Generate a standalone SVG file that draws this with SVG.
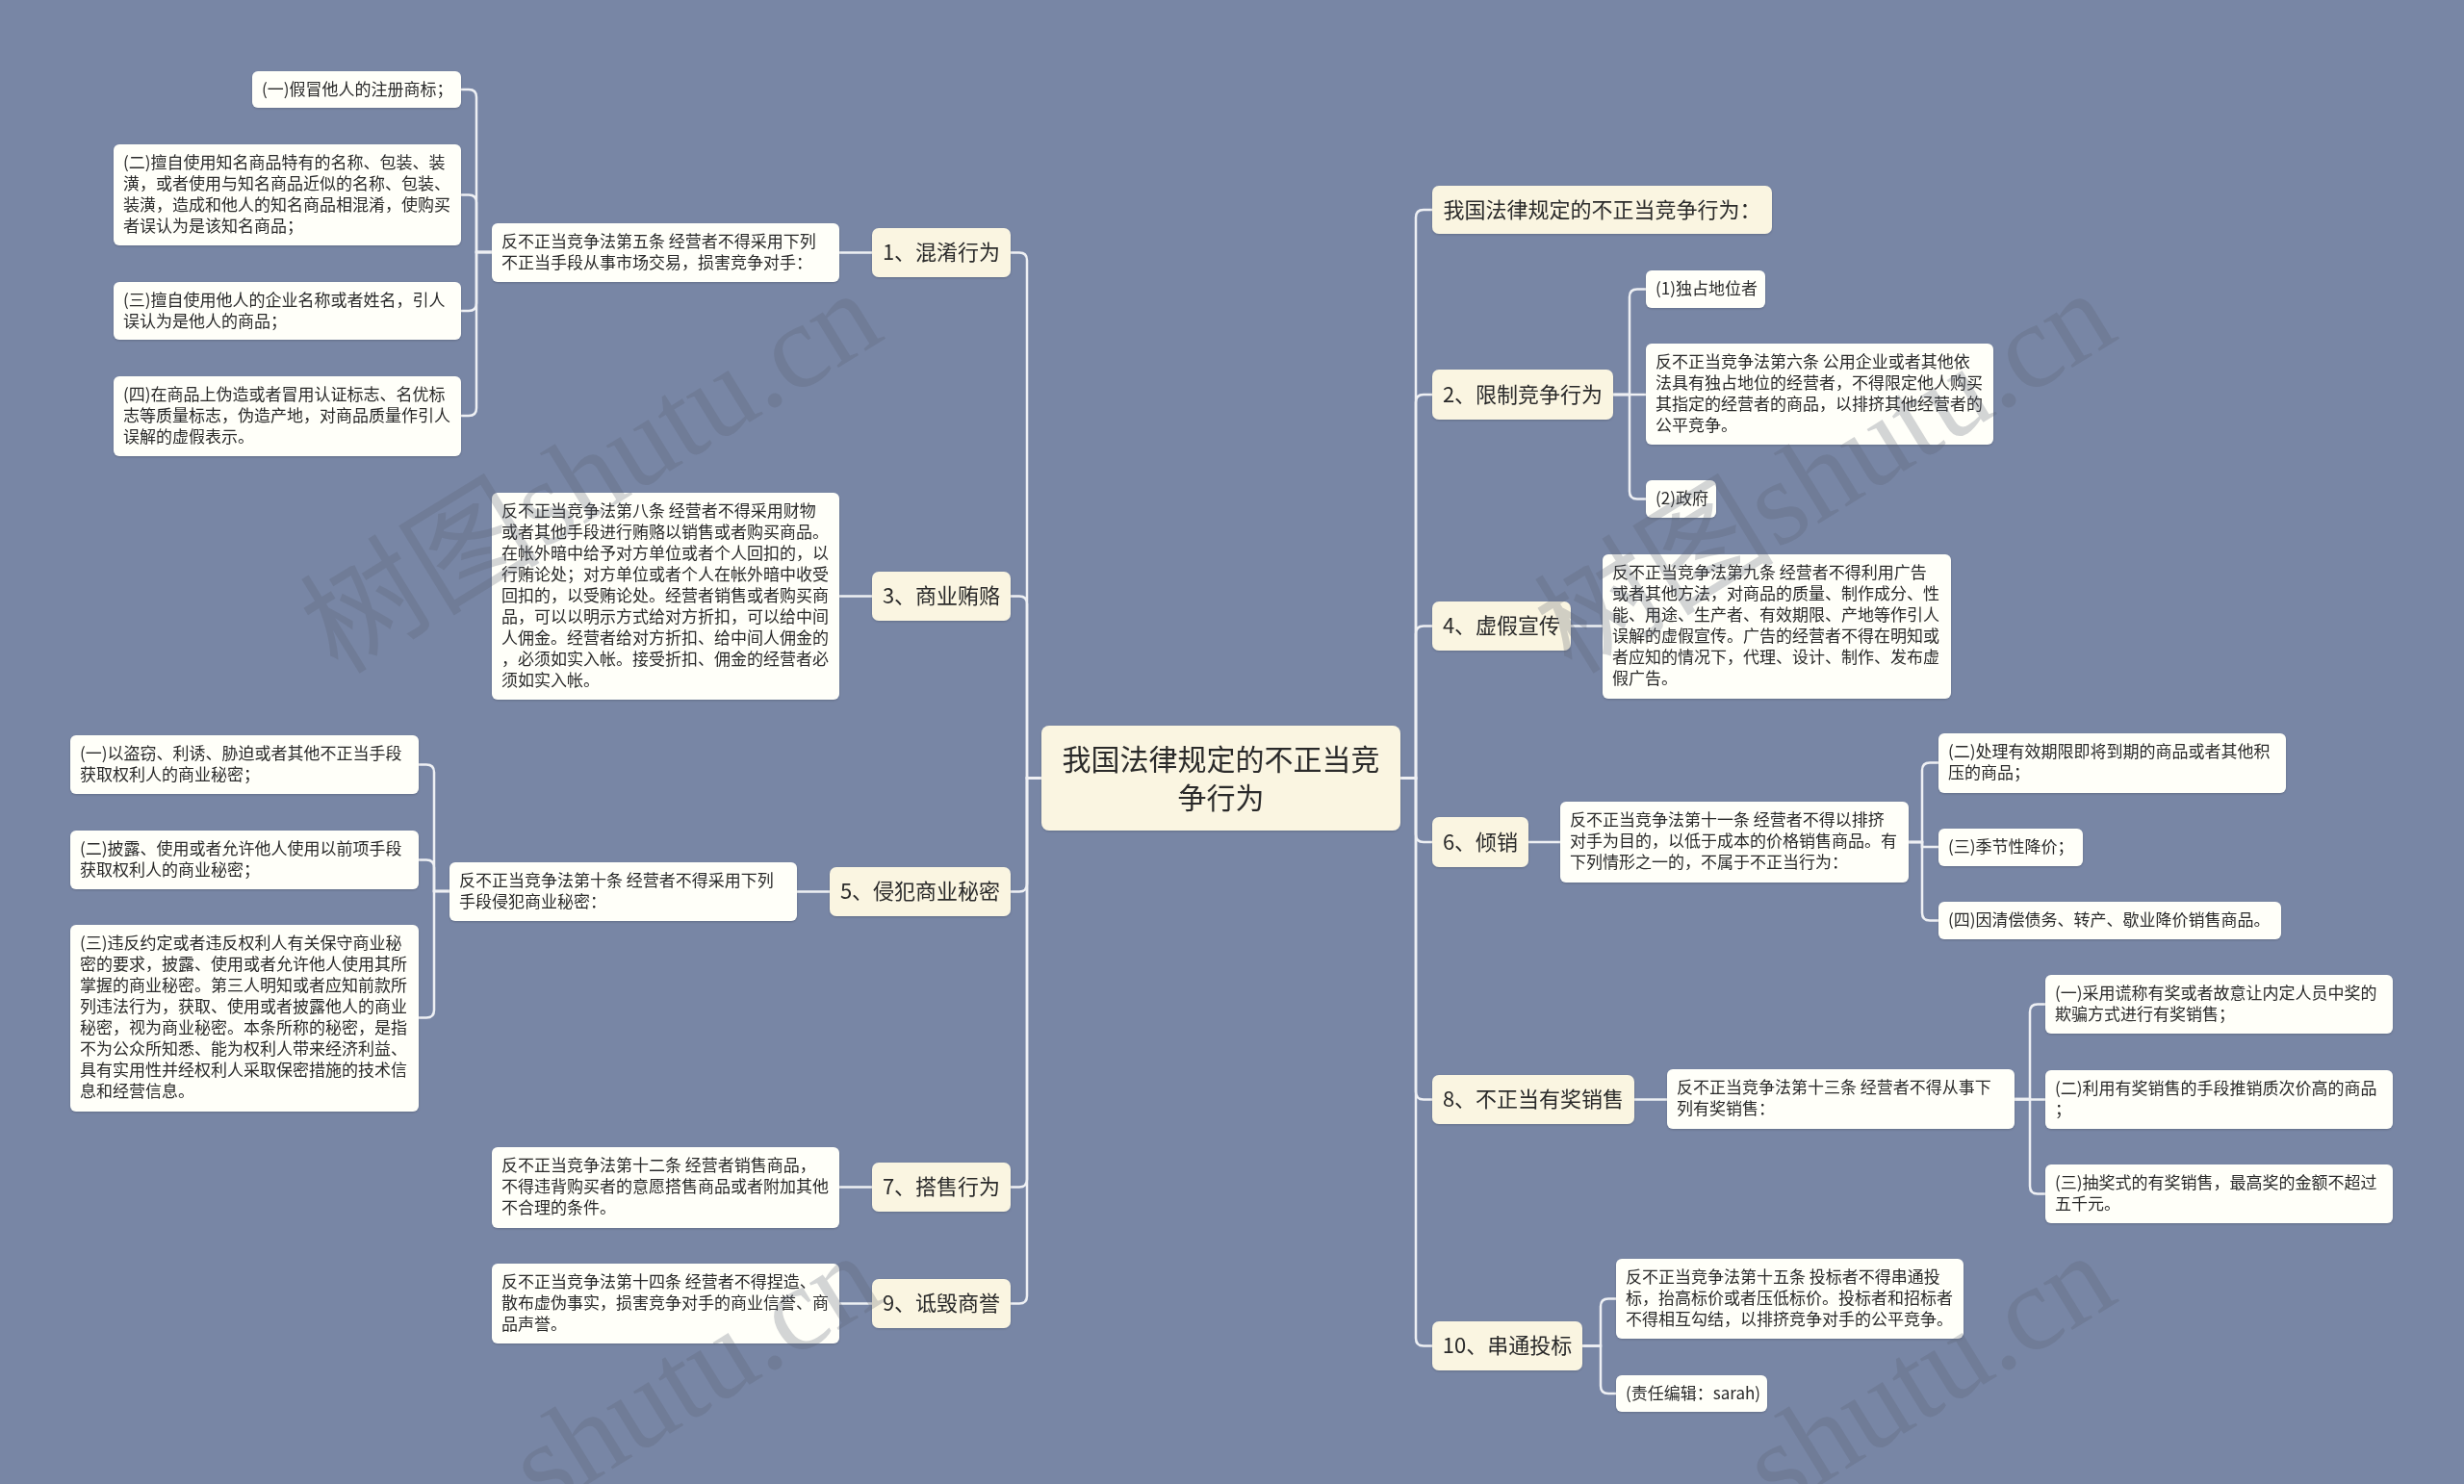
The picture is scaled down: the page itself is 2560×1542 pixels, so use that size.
<svg xmlns="http://www.w3.org/2000/svg" width="2560" height="1542" viewBox="0 0 2560 1542">
<defs>
<style>
.bg{fill:#7886A5}
.l1{fill:#FAF5E1}
.leaf{fill:#FFFFF9}
.t17{font-family:"Noto Sans CJK SC","Noto Sans",sans-serif;font-size:17px;fill:#2a2a2a}
.t22{font-family:"Noto Sans CJK SC","Noto Sans",sans-serif;font-size:22px;fill:#2a2a2a;text-anchor:middle}
.t30{font-family:"Noto Sans CJK SC","Noto Sans",sans-serif;font-size:30px;fill:#2a2a2a;text-anchor:middle}
.conn path{stroke:#EEF0F4;stroke-width:2.5;fill:none}
.wm{font-family:"Liberation Serif","Noto Sans CJK SC",serif;font-size:125px;fill:#5A6070;opacity:0.26}
</style>
<filter id="sh" x="-5%" y="-10%" width="110%" height="130%"><feDropShadow dx="0" dy="1" stdDeviation="1" flood-color="#000" flood-opacity="0.18"/></filter>
</defs>
<rect class="bg" x="0" y="0" width="2560" height="1542"/>

<g class="conn" id="connectors">
<path d="M1082 808.5 H1067 V270.5 Q1067 262.5 1059 262.5 H1050"/>
<path d="M1082 808.5 H1067 V627.5 Q1067 619.5 1059 619.5 H1050"/>
<path d="M1082 808.5 H1067 V918.5 Q1067 926.5 1059 926.5 H1050"/>
<path d="M1082 808.5 H1067 V1225.5 Q1067 1233.5 1059 1233.5 H1050"/>
<path d="M1082 808.5 H1067 V1346.5 Q1067 1354.5 1059 1354.5 H1050"/>
<path d="M906 262.5 H872"/>
<path d="M906 619.5 H872"/>
<path d="M862 926.5 H828"/>
<path d="M906 1233.5 H872"/>
<path d="M906 1354.5 H872"/>
<path d="M511 262 H495 V101 Q495 93 487 93 H479"/>
<path d="M511 262 H495 V210.5 Q495 202.5 487 202.5 H479"/>
<path d="M511 262 H495 V315 Q495 323 487 323 H479"/>
<path d="M511 262 H495 V424 Q495 432 487 432 H479"/>
<path d="M467 926 H451 V802.5 Q451 794.5 443 794.5 H435"/>
<path d="M467 926 H451 V901.5 Q451 893.5 443 893.5 H435"/>
<path d="M467 926 H451 V1049.5 Q451 1057.5 443 1057.5 H435"/>
<path d="M1455 808.5 H1471 V226 Q1471 218 1479 218 H1488"/>
<path d="M1455 808.5 H1471 V418 Q1471 410 1479 410 H1488"/>
<path d="M1455 808.5 H1471 V658.5 Q1471 650.5 1479 650.5 H1488"/>
<path d="M1455 808.5 H1471 V867 Q1471 875 1479 875 H1488"/>
<path d="M1455 808.5 H1471 V1134.5 Q1471 1142.5 1479 1142.5 H1488"/>
<path d="M1455 808.5 H1471 V1390.5 Q1471 1398.5 1479 1398.5 H1488"/>
<path d="M1676 410 H1693 V308.5 Q1693 300.5 1701 300.5 H1710"/>
<path d="M1676 410 H1710"/>
<path d="M1676 410 H1693 V510.5 Q1693 518.5 1701 518.5 H1710"/>
<path d="M1632 650.5 H1665"/>
<path d="M1588 875 H1621"/>
<path d="M1983 875 H1997 V800.5 Q1997 792.5 2005 792.5 H2014"/>
<path d="M1983 875 H1997 V880 H2014"/>
<path d="M1983 875 H1997 V948.5 Q1997 956.5 2005 956.5 H2014"/>
<path d="M1698 1142.5 H1732"/>
<path d="M2093 1142 H2109 V1051.5 Q2109 1043.5 2117 1043.5 H2125"/>
<path d="M2093 1142.5 H2125"/>
<path d="M2093 1142 H2109 V1232.5 Q2109 1240.5 2117 1240.5 H2125"/>
<path d="M1644 1398.5 H1663 V1357.5 Q1663 1349.5 1671 1349.5 H1679"/>
<path d="M1644 1398.5 H1663 V1440 Q1663 1448 1671 1448 H1679"/>
</g>

<g id="root" filter="url(#sh)">
<rect class="l1" x="1082" y="754" width="373" height="109" rx="8"/>
<text class="t30" x="1268.5" y="800">我国法律规定的不正当竞<tspan x="1268.5" dy="40">争行为</tspan></text>
</g>

<g id="n1" filter="url(#sh)"><rect class="l1" x="906" y="237" width="144" height="51" rx="7"/><text class="t22" x="978" y="270">1、混淆行为</text></g>
<g id="n3" filter="url(#sh)"><rect class="l1" x="906" y="594" width="144" height="51" rx="7"/><text class="t22" x="978" y="627">3、商业贿赂</text></g>
<g id="n5" filter="url(#sh)"><rect class="l1" x="862" y="901" width="188" height="51" rx="7"/><text class="t22" x="956" y="934">5、侵犯商业秘密</text></g>
<g id="n7" filter="url(#sh)"><rect class="l1" x="906" y="1208" width="144" height="51" rx="7"/><text class="t22" x="978" y="1241">7、搭售行为</text></g>
<g id="n9" filter="url(#sh)"><rect class="l1" x="906" y="1329" width="144" height="51" rx="7"/><text class="t22" x="978" y="1362">9、诋毁商誉</text></g>

<g id="r0" filter="url(#sh)"><rect class="l1" x="1488" y="193" width="353" height="50" rx="7"/><text class="t22" x="1664.5" y="226">我国法律规定的不正当竞争行为：</text></g>
<g id="r2" filter="url(#sh)"><rect class="l1" x="1488" y="384" width="188" height="52" rx="7"/><text class="t22" x="1582" y="418">2、限制竞争行为</text></g>
<g id="r4" filter="url(#sh)"><rect class="l1" x="1488" y="625" width="144" height="51" rx="7"/><text class="t22" x="1560" y="658">4、虚假宣传</text></g>
<g id="r6" filter="url(#sh)"><rect class="l1" x="1488" y="849" width="100" height="52" rx="7"/><text class="t22" x="1538" y="883">6、倾销</text></g>
<g id="r8" filter="url(#sh)"><rect class="l1" x="1488" y="1117" width="210" height="51" rx="7"/><text class="t22" x="1593" y="1150">8、不正当有奖销售</text></g>
<g id="r10" filter="url(#sh)"><rect class="l1" x="1488" y="1373" width="156" height="51" rx="7"/><text class="t22" x="1566" y="1406">10、串通投标</text></g>

<g id="a1" filter="url(#sh)"><rect class="leaf" x="262" y="74" width="217" height="38" rx="6"/><text class="t17" x="272" y="99">(一)假冒他人的注册商标；</text></g>
<g id="a2" filter="url(#sh)"><rect class="leaf" x="118" y="150" width="361" height="105" rx="6"/><text class="t17" x="128" y="175">(二)擅自使用知名商品特有的名称、包装、装<tspan x="128" dy="22">潢，或者使用与知名商品近似的名称、包装、</tspan><tspan x="128" dy="22">装潢，造成和他人的知名商品相混淆，使购买</tspan><tspan x="128" dy="22">者误认为是该知名商品；</tspan></text></g>
<g id="a3" filter="url(#sh)"><rect class="leaf" x="118" y="293" width="361" height="60" rx="6"/><text class="t17" x="128" y="318">(三)擅自使用他人的企业名称或者姓名，引人<tspan x="128" dy="22">误认为是他人的商品；</tspan></text></g>
<g id="a4" filter="url(#sh)"><rect class="leaf" x="118" y="391" width="361" height="83" rx="6"/><text class="t17" x="128" y="416">(四)在商品上伪造或者冒用认证标志、名优标<tspan x="128" dy="22">志等质量标志，伪造产地，对商品质量作引人</tspan><tspan x="128" dy="22">误解的虚假表示。</tspan></text></g>
<g id="t1" filter="url(#sh)"><rect class="leaf" x="511" y="232" width="361" height="61" rx="6"/><text class="t17" x="521" y="257">反不正当竞争法第五条 经营者不得采用下列<tspan x="521" dy="22">不正当手段从事市场交易，损害竞争对手：</tspan></text></g>
<g id="t3" filter="url(#sh)"><rect class="leaf" x="511" y="512" width="361" height="215" rx="6"/><text class="t17" x="521" y="537">反不正当竞争法第八条 经营者不得采用财物<tspan x="521" dy="22">或者其他手段进行贿赂以销售或者购买商品。</tspan><tspan x="521" dy="22">在帐外暗中给予对方单位或者个人回扣的，以</tspan><tspan x="521" dy="22">行贿论处；对方单位或者个人在帐外暗中收受</tspan><tspan x="521" dy="22">回扣的，以受贿论处。经营者销售或者购买商</tspan><tspan x="521" dy="22">品，可以以明示方式给对方折扣，可以给中间</tspan><tspan x="521" dy="22">人佣金。经营者给对方折扣、给中间人佣金的</tspan><tspan x="521" dy="22">，必须如实入帐。接受折扣、佣金的经营者必</tspan><tspan x="521" dy="22">须如实入帐。</tspan></text></g>
<g id="t5" filter="url(#sh)"><rect class="leaf" x="467" y="896" width="361" height="61" rx="6"/><text class="t17" x="477" y="921">反不正当竞争法第十条 经营者不得采用下列<tspan x="477" dy="22">手段侵犯商业秘密：</tspan></text></g>
<g id="b1" filter="url(#sh)"><rect class="leaf" x="73" y="764" width="362" height="61" rx="6"/><text class="t17" x="83" y="789">(一)以盗窃、利诱、胁迫或者其他不正当手段<tspan x="83" dy="22">获取权利人的商业秘密；</tspan></text></g>
<g id="b2" filter="url(#sh)"><rect class="leaf" x="73" y="863" width="362" height="61" rx="6"/><text class="t17" x="83" y="888">(二)披露、使用或者允许他人使用以前项手段<tspan x="83" dy="22">获取权利人的商业秘密；</tspan></text></g>
<g id="b3" filter="url(#sh)"><rect class="leaf" x="73" y="961" width="362" height="194" rx="6"/><text class="t17" x="83" y="986">(三)违反约定或者违反权利人有关保守商业秘<tspan x="83" dy="22">密的要求，披露、使用或者允许他人使用其所</tspan><tspan x="83" dy="22">掌握的商业秘密。第三人明知或者应知前款所</tspan><tspan x="83" dy="22">列违法行为，获取、使用或者披露他人的商业</tspan><tspan x="83" dy="22">秘密，视为商业秘密。本条所称的秘密，是指</tspan><tspan x="83" dy="22">不为公众所知悉、能为权利人带来经济利益、</tspan><tspan x="83" dy="22">具有实用性并经权利人采取保密措施的技术信</tspan><tspan x="83" dy="22">息和经营信息。</tspan></text></g>
<g id="t7" filter="url(#sh)"><rect class="leaf" x="511" y="1192" width="361" height="84" rx="6"/><text class="t17" x="521" y="1217">反不正当竞争法第十二条 经营者销售商品，<tspan x="521" dy="22">不得违背购买者的意愿搭售商品或者附加其他</tspan><tspan x="521" dy="22">不合理的条件。</tspan></text></g>
<g id="t9" filter="url(#sh)"><rect class="leaf" x="511" y="1313" width="361" height="83" rx="6"/><text class="t17" x="521" y="1338">反不正当竞争法第十四条 经营者不得捏造、<tspan x="521" dy="22">散布虚伪事实，损害竞争对手的商业信誉、商</tspan><tspan x="521" dy="22">品声誉。</tspan></text></g>

<g id="c1" filter="url(#sh)"><rect class="leaf" x="1710" y="281" width="124" height="39" rx="6"/><text class="t17" x="1720" y="306">(1)独占地位者</text></g>
<g id="c2" filter="url(#sh)"><rect class="leaf" x="1710" y="357" width="361" height="105" rx="6"/><text class="t17" x="1720" y="382">反不正当竞争法第六条 公用企业或者其他依<tspan x="1720" dy="22">法具有独占地位的经营者，不得限定他人购买</tspan><tspan x="1720" dy="22">其指定的经营者的商品，以排挤其他经营者的</tspan><tspan x="1720" dy="22">公平竞争。</tspan></text></g>
<g id="c3" filter="url(#sh)"><rect class="leaf" x="1710" y="499" width="73" height="39" rx="6"/><text class="t17" x="1720" y="524">(2)政府</text></g>
<g id="d1" filter="url(#sh)"><rect class="leaf" x="1665" y="576" width="362" height="150" rx="6"/><text class="t17" x="1675" y="601">反不正当竞争法第九条 经营者不得利用广告<tspan x="1675" dy="22">或者其他方法，对商品的质量、制作成分、性</tspan><tspan x="1675" dy="22">能、用途、生产者、有效期限、产地等作引人</tspan><tspan x="1675" dy="22">误解的虚假宣传。广告的经营者不得在明知或</tspan><tspan x="1675" dy="22">者应知的情况下，代理、设计、制作、发布虚</tspan><tspan x="1675" dy="22">假广告。</tspan></text></g>
<g id="e1" filter="url(#sh)"><rect class="leaf" x="1621" y="833" width="362" height="84" rx="6"/><text class="t17" x="1631" y="858">反不正当竞争法第十一条 经营者不得以排挤<tspan x="1631" dy="22">对手为目的，以低于成本的价格销售商品。有</tspan><tspan x="1631" dy="22">下列情形之一的，不属于不正当行为：</tspan></text></g>
<g id="e2" filter="url(#sh)"><rect class="leaf" x="2014" y="762" width="361" height="62" rx="6"/><text class="t17" x="2024" y="787">(二)处理有效期限即将到期的商品或者其他积<tspan x="2024" dy="22">压的商品；</tspan></text></g>
<g id="e3" filter="url(#sh)"><rect class="leaf" x="2014" y="861" width="150" height="39" rx="6"/><text class="t17" x="2024" y="886">(三)季节性降价；</text></g>
<g id="e4" filter="url(#sh)"><rect class="leaf" x="2014" y="937" width="356" height="39" rx="6"/><text class="t17" x="2024" y="962">(四)因清偿债务、转产、歇业降价销售商品。</text></g>
<g id="f1" filter="url(#sh)"><rect class="leaf" x="1732" y="1111" width="361" height="62" rx="6"/><text class="t17" x="1742" y="1136">反不正当竞争法第十三条 经营者不得从事下<tspan x="1742" dy="22">列有奖销售：</tspan></text></g>
<g id="f2" filter="url(#sh)"><rect class="leaf" x="2125" y="1013" width="361" height="61" rx="6"/><text class="t17" x="2135" y="1038">(一)采用谎称有奖或者故意让内定人员中奖的<tspan x="2135" dy="22">欺骗方式进行有奖销售；</tspan></text></g>
<g id="f3" filter="url(#sh)"><rect class="leaf" x="2125" y="1112" width="361" height="61" rx="6"/><text class="t17" x="2135" y="1137">(二)利用有奖销售的手段推销质次价高的商品<tspan x="2135" dy="22">；</tspan></text></g>
<g id="f4" filter="url(#sh)"><rect class="leaf" x="2125" y="1210" width="361" height="61" rx="6"/><text class="t17" x="2135" y="1235">(三)抽奖式的有奖销售，最高奖的金额不超过<tspan x="2135" dy="22">五千元。</tspan></text></g>
<g id="g1" filter="url(#sh)"><rect class="leaf" x="1679" y="1308" width="361" height="83" rx="6"/><text class="t17" x="1689" y="1333">反不正当竞争法第十五条 投标者不得串通投<tspan x="1689" dy="22">标，抬高标价或者压低标价。投标者和招标者</tspan><tspan x="1689" dy="22">不得相互勾结，以排挤竞争对手的公平竞争。</tspan></text></g>
<g id="g2" filter="url(#sh)"><rect class="leaf" x="1679" y="1429" width="157" height="38" rx="6"/><text class="t17" x="1689" y="1454">(责任编辑：sarah)</text></g>

<g id="watermarks">
<text class="wm" transform="translate(351,702) rotate(-31.6)">树图shutu.cn</text>
<text class="wm" transform="translate(1633,702) rotate(-31.6)">树图shutu.cn</text>
<text class="wm" transform="translate(564,1571) rotate(-31.6)">shutu.cn</text>
<text class="wm" transform="translate(1846,1571) rotate(-31.6)">shutu.cn</text>
</g>
</svg>
